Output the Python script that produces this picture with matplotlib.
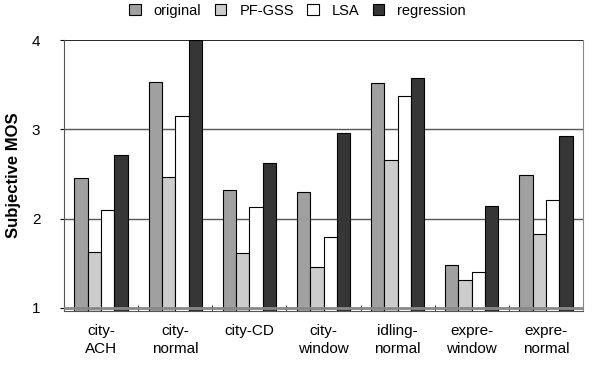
import numpy as np
import matplotlib
matplotlib.use("Agg")
import matplotlib.pyplot as plt

plt.rcParams['font.family'] = ['Liberation Sans', 'DejaVu Sans']

categories = ['city-\nACH', 'city-\nnormal', 'city-CD', 'city-\nwindow',
              'idling-\nnormal', 'expre-\nwindow', 'expre-\nnormal']
series = ['original', 'PF-GSS', 'LSA', 'regression']
original = [2.46, 3.53, 2.32, 2.30, 3.52, 1.48, 2.49]
pf_gss = [1.63, 2.47, 1.61, 1.46, 2.66, 1.31, 1.83]
lsa = [2.10, 3.15, 2.13, 1.79, 3.37, 1.40, 2.21]
regression = [2.71, 4.00, 2.62, 2.96, 3.58, 2.14, 2.93]
colours = ['#a0a0a0', '#cccccc', '#ffffff', '#363636']

fig = plt.figure(figsize=(5.95, 3.69), dpi=100)
ax = fig.add_axes([64 / 595, 1 - 311 / 369, 519 / 595, 271 / 369])

x = np.arange(len(categories))
w = 0.18
base = 0.965
handles = []
for i, (vals, c) in enumerate(zip([original, pf_gss, lsa, regression], colours)):
    vals = np.asarray(vals)
    b = ax.bar(x + (i - 1.5) * w, vals - base, w, bottom=base, color=c,
               edgecolor='black', linewidth=0.8, zorder=3)
    handles.append(b)

ax.set_xlim(-0.5, len(categories) - 0.5)
ax.set_ylim(base, 4.0)
ax.set_yticks([1, 2, 3, 4])
for yv in [2, 3]:
    ax.axhline(yv, color='#555555', linewidth=1.0, zorder=1)
ax.axhline(1, color='#888888', linewidth=2.0, zorder=4)
ax.axhline(4, color='black', linewidth=1.2, zorder=1)

ax.set_xticks(x)
ax.set_xticklabels(categories, fontsize=11, linespacing=1.45)
ax.tick_params(axis='x', length=0, pad=9)
ax.set_xticks(np.arange(len(categories)) + 0.5, minor=True)
ax.tick_params(axis='x', which='minor', direction='in', length=4)
ax.tick_params(axis='y', direction='out', length=3, labelsize=11, pad=14)

ax.spines['top'].set_visible(False)
ax.spines['right'].set_color('#888888')
ax.spines['left'].set_color('#555555')
ax.spines['bottom'].set_color('#555555')

ax.set_ylabel('Subjective MOS', fontsize=12, fontweight='bold', labelpad=8)

fig.legend([h[0] for h in handles], series, loc='upper center',
           bbox_to_anchor=(0.5, 1.025), ncol=4, frameon=False, fontsize=10.5,
           handlelength=0.8, handleheight=0.8, handletextpad=0.9, columnspacing=0.9)

fig.savefig('out.png', dpi=100)
